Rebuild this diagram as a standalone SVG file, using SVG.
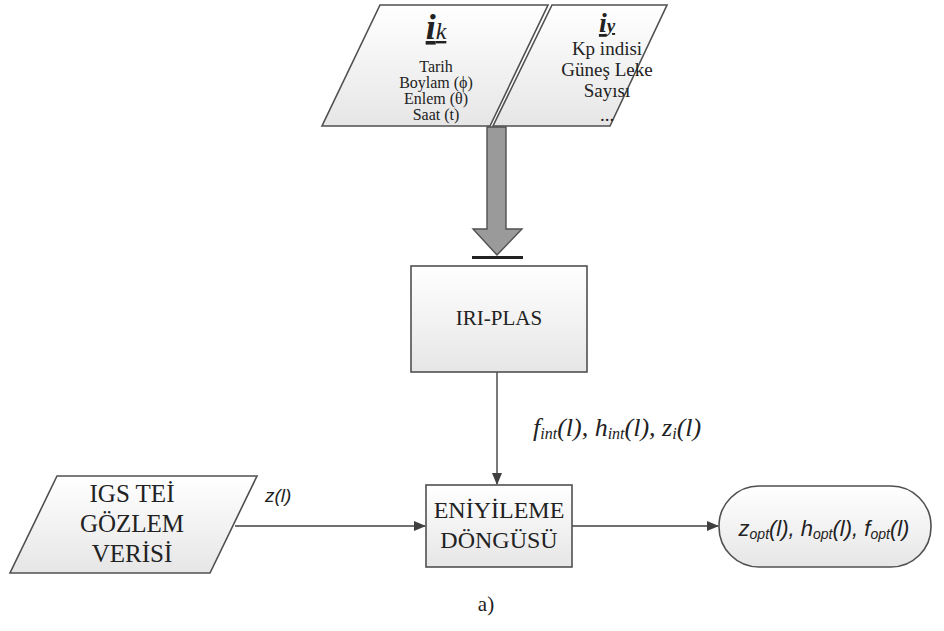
<svg xmlns="http://www.w3.org/2000/svg" width="944" height="631" viewBox="0 0 944 631">
<style>
.sh{fill:url(#g);stroke:#505050;stroke-width:1.6}
.ser{font-family:"Liberation Serif",serif;fill:#222;text-anchor:middle}
.ln{stroke:#404040;stroke-width:1.4;fill:none}
</style>
<defs>
<linearGradient id="g" x1="0" y1="0" x2="0" y2="1">
<stop offset="0" stop-color="#ffffff"/>
<stop offset="1" stop-color="#e6e6e6"/>
</linearGradient>
<marker id="ar" markerWidth="12" markerHeight="10" refX="11" refY="5" orient="auto" markerUnits="userSpaceOnUse">
<path d="M0,0 L12,5 L0,10 Z" fill="#404040"/>
</marker>
</defs>
<rect width="944" height="631" fill="#fff"/>
<g id="connectors">
<path class="ln" d="M497,372 V484" marker-end="url(#ar)"/>
<path class="ln" d="M235,526 H425" marker-end="url(#ar)"/>
<path class="ln" d="M572,526 H718" marker-end="url(#ar)"/>
<path d="M487,127 H506 V229 H522 L497,255 L473,229 H487 Z" fill="#9a9a9a" stroke="#505050" stroke-width="1.4"/>
<rect x="472" y="256" width="51" height="3" fill="#222"/>
<text x="533" y="436" font-family="Liberation Serif,serif" font-style="italic" font-size="26" fill="#222">f<tspan font-size="16" dy="3">int</tspan><tspan dy="-3">(l), h</tspan><tspan font-size="16" dy="3">int</tspan><tspan dy="-3">(l), z</tspan><tspan font-size="16" dy="3">i</tspan><tspan dy="-3">(l)</tspan></text>
<text x="265" y="502" font-family="Liberation Sans,sans-serif" font-style="italic" font-size="19" fill="#222">z(l)</text>
</g>
<g id="ik">
<path class="sh" d="M380,5 H548 L490,126 H322 Z"/>
<text class="ser" x="436" y="39" font-size="36" font-weight="bold" font-style="italic" text-decoration="underline">i<tspan font-size="24" font-weight="normal">k</tspan></text>
<text class="ser" x="436" y="72" font-size="16">Tarih</text>
<text class="ser" x="436" y="88" font-size="16">Boylam (ϕ)</text>
<text class="ser" x="436" y="104" font-size="16">Enlem (θ)</text>
<text class="ser" x="436" y="120" font-size="16">Saat (t)</text>
</g>
<g id="iy">
<path class="sh" d="M552,5 H667 L610,126 H493 Z"/>
<text class="ser" x="607" y="32" font-size="28" font-weight="bold" font-style="italic" text-decoration="underline">i<tspan font-size="19">y</tspan></text>
<text class="ser" x="607" y="55" font-size="19">Kp indisi</text>
<text class="ser" x="607" y="76" font-size="19">Güneş Leke</text>
<text class="ser" x="607" y="97" font-size="19">Sayısı</text>
<text class="ser" x="607" y="121" font-size="19">...</text>
</g>
<g id="iriplas">
<rect class="sh" x="411" y="266" width="176" height="106"/>
<text class="ser" x="499" y="325" font-size="21">IRI-PLAS</text>
</g>
<g id="eniyileme">
<rect class="sh" x="426" y="485" width="146" height="82"/>
<text class="ser" x="499" y="518" font-size="24">ENİYİLEME</text>
<text class="ser" x="499" y="548" font-size="24">DÖNGÜSÜ</text>
</g>
<g id="igs">
<path class="sh" d="M57,476 H257 L210,573 H10 Z"/>
<text class="ser" x="132" y="502" font-size="25">IGS TEİ</text>
<text class="ser" x="132" y="532" font-size="25">GÖZLEM</text>
<text class="ser" x="132" y="562" font-size="25">VERİSİ</text>
</g>
<g id="output">
<rect class="sh" x="719" y="486" width="212" height="81" rx="40" ry="40"/>
<text x="824" y="536" text-anchor="middle" font-family="Liberation Sans,sans-serif" font-style="italic" font-size="22" fill="#222">z<tspan font-size="14" dy="3">opt</tspan><tspan dy="-3">(l), h</tspan><tspan font-size="14" dy="3">opt</tspan><tspan dy="-3">(l), f</tspan><tspan font-size="14" dy="3">opt</tspan><tspan dy="-3">(l)</tspan></text>
</g>
<text class="ser" x="486" y="611" font-size="21">a)</text>
</svg>
